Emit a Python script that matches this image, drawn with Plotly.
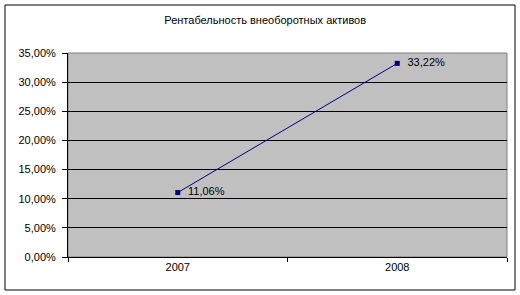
import plotly.graph_objects as go

title = "Рентабельность внеоборотных активов"
years = ["2007", "2008"]
values = [0.1106, 0.3322]

W, H = 520, 295
ml, mr, mt, mb = 68, 13, 53, 38
pw, ph = W - ml - mr, H - mt - mb

def px_x(p):
    return (p - ml) / pw

def px_y(p):
    return (H - mb - p) / ph

fig = go.Figure()
fig.add_trace(go.Scatter(
    x=years, y=values, mode="lines+markers+text",
    line=dict(color="#000080", width=1),
    marker=dict(symbol="square", size=5, color="#000080"),
    texttemplate="\u00a0\u00a0%{y:.2%}", textposition="middle right",
    textfont=dict(family="Liberation Sans", size=11, color="black"),
    cliponaxis=False, showlegend=False,
))

fig.update_layout(
    width=W, height=H,
    margin=dict(l=ml, r=mr, t=mt, b=mb),
    paper_bgcolor="white", plot_bgcolor="#C0C0C0",
    separators=", ",
    font=dict(family="Liberation Sans", size=11, color="black"),
    title=dict(text=title, x=0.51, xanchor="center", y=1 - 20 / H, yanchor="middle",
               font=dict(family="Liberation Sans", size=11, color="black")),
    xaxis=dict(type="category", range=[-0.5, 1.5], showgrid=False,
               showline=True, linecolor="black", linewidth=1,
               ticks="outside", tickson="boundaries", ticklen=4, tickcolor="black",
               tickfont=dict(size=11), zeroline=False),
    yaxis=dict(range=[0, 0.35], dtick=0.05, tickformat=".2%",
               showgrid=True, gridcolor="black", gridwidth=1,
               showline=True, linecolor="black", linewidth=1,
               ticks="outside", ticklen=5, tickcolor="black", ticklabelstandoff=4,
               tickfont=dict(size=11), zeroline=False),
)

# plot-area border (gray top/right)
fig.add_shape(type="rect", xref="paper", yref="paper", x0=0, x1=1, y0=0, y1=1,
              line=dict(color="#808080", width=1), layer="below")
# outer chart border
fig.add_shape(type="rect", xref="paper", yref="paper",
              x0=px_x(5), x1=px_x(515), y0=px_y(290), y1=px_y(5),
              line=dict(color="black", width=1))

fig.write_html("out.html")
